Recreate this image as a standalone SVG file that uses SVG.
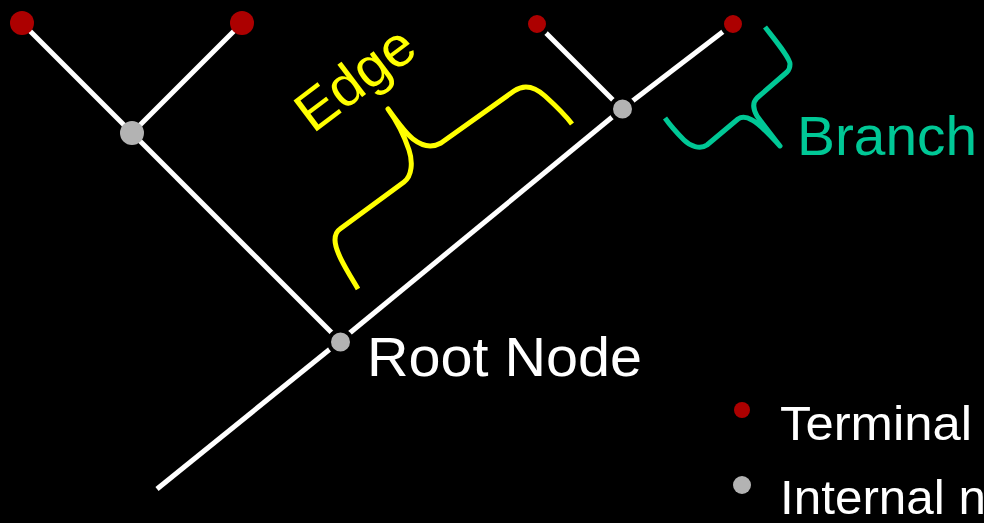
<svg xmlns="http://www.w3.org/2000/svg" width="984" height="523" viewBox="0 0 984 523">
<style>
.edge{stroke:#fff;stroke-width:5;fill:none}
.term{fill:#ac0000}
.intl{fill:#b3b3b3}
.ring{stroke:#000;stroke-width:4}
.lbl{font-family:"Liberation Sans",Arial,sans-serif;font-size:56px}
.leg{font-family:"Liberation Sans",Arial,sans-serif;font-size:48px;fill:#fff}
.brace{fill:none;stroke-width:5;stroke-linecap:butt;stroke-linejoin:round}
</style>
<rect width="984" height="523" fill="#000"/>
<g id="connectors">
<line class="edge" x1="22" y1="23" x2="132" y2="133"/>
<line class="edge" x1="242" y1="23" x2="132" y2="133"/>
<line class="edge" x1="132" y1="133" x2="340" y2="341"/>
<line class="edge" x1="340" y1="341" x2="157" y2="489"/>
<line class="edge" x1="340" y1="341" x2="622" y2="109"/>
<line class="edge" x1="537" y1="24" x2="622" y2="109"/>
<line class="edge" x1="733" y1="24" x2="622" y2="109"/>
</g>
<g id="leaf1"><circle class="term" cx="22" cy="23" r="12"/></g>
<g id="leaf2"><circle class="term" cx="242" cy="23" r="12"/></g>
<g id="internal1"><circle class="intl" cx="132" cy="133" r="12"/></g>
<g id="root"><circle class="intl ring" cx="340.5" cy="342" r="11.5"/>
<text class="lbl" x="367" y="376" fill="#fff" textLength="275" lengthAdjust="spacingAndGlyphs">Root Node</text></g>
<g id="internal2"><circle class="intl ring" cx="622.5" cy="109" r="11.5"/></g>
<g id="leaf3"><circle class="term ring" cx="537" cy="24" r="11"/></g>
<g id="leaf4"><circle class="term ring" cx="733" cy="24" r="11"/></g>
<g id="edge-label">
<path class="brace" stroke="#ffff00" d="M358,289 C348,272 335,252 335,240 C335,234 337,231 340,229 L404,182 C412,176 413,162 409,150 C404,135 396,120 388,109 C396,120 405,133 413,139 C422,146 432,148 441,143 L514,91 C524,84 534,86 545,96 C556,106 566,116 572,124"/>
<text class="lbl" fill="#ffff00" transform="translate(313,134) rotate(-37)" textLength="134" lengthAdjust="spacingAndGlyphs">Edge</text>
</g>
<g id="branch-label">
<path class="brace" stroke="#00c896" d="M765,27 C775,40 790,58 790,64 C790,68 789,70 787,72 L757,98 C752,103 753,109 757,116 C765,127 773,137 780,146 C770,135 760,124 752,120 C747,117 742,116 738,119 L707,145 C700,150 690,146 684,140 C677,133 670,125 665,118"/>
<text class="lbl" x="797" y="155" fill="#00c896" textLength="180" lengthAdjust="spacingAndGlyphs">Branch</text>
</g>
<g id="legend">
<circle class="term" cx="742" cy="410" r="8"/>
<text class="leg" x="780" y="440" textLength="192" lengthAdjust="spacingAndGlyphs">Terminal</text>
<circle class="intl" cx="742" cy="485" r="9"/>
<text class="leg" x="780" y="514" textLength="206" lengthAdjust="spacingAndGlyphs">Internal n</text>
</g>
</svg>
